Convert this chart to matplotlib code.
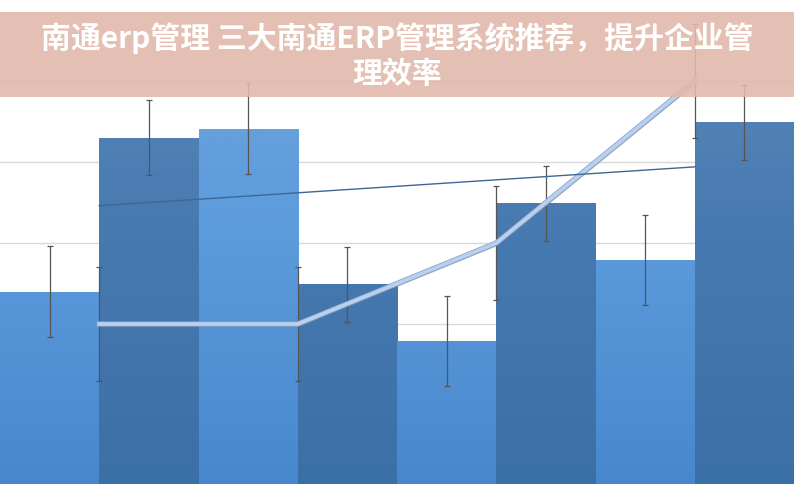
import matplotlib
matplotlib.use("Agg")
import matplotlib.pyplot as plt
import matplotlib.patheffects as pe
import numpy as np
from matplotlib.colors import LinearSegmentedColormap

# data
bar_values = [2.40, 4.30, 4.41, 2.49, 1.79, 3.49, 2.79, 4.49]
bar_errors = [0.56, 0.46, 0.56, 0.46, 0.56, 0.46, 0.56, 0.46]
line_x = [0.5, 2.5, 4.5, 6.5]
line_values = [2.0, 2.0, 3.0, 5.0]
line_errors = [0.7, 0.7, 0.7, 0.7]
trend_x = [0.5, 6.5]
trend_values = [3.46, 3.94]
title = "南通erp管理 三大南通ERP管理系统推荐，提升企业管\n理效率"

plt.rcParams['font.family'] = ['Noto Sans CJK SC', 'DejaVu Sans']

fig = plt.figure(figsize=(7.94, 4.84), dpi=100)
ax = fig.add_axes([0, 0, 1, 1])

x = np.arange(len(bar_values))
light = LinearSegmentedColormap.from_list("light", ["#4787cc", "#5b9bdc", "#72a5dc"])
dark = LinearSegmentedColormap.from_list("dark", ["#3b70a6", "#4679b0", "#5d8aba"])

bars = ax.bar(x, bar_values, width=1.0, color="none", zorder=2)
grad = np.linspace(0, 1, 256).reshape(-1, 1)
for i, b in enumerate(bars):
    cmap = light if i % 2 == 0 else dark
    im = ax.imshow(grad, cmap=cmap, origin="lower", aspect="auto",
                   extent=[b.get_x(), b.get_x() + b.get_width(), 0, 6.0], zorder=2)
    im.set_clip_path(b)

ax.errorbar(x, bar_values, yerr=bar_errors, fmt="none", ecolor="#555555",
            elinewidth=0.9, capsize=2, capthick=0.9, zorder=4)

# line series at the category boundaries
ax.errorbar(line_x, line_values, yerr=line_errors, fmt="none", ecolor="#555555",
            elinewidth=0.9, capsize=2, capthick=0.9, zorder=4)
ax.plot(line_x, line_values, color="#b9d0ee", linewidth=2.6, zorder=5,
        path_effects=[pe.SimpleLineShadow(offset=(0.6, -0.8), shadow_color="#6f7f95", alpha=0.6),
                      pe.Stroke(linewidth=3.8, foreground="#8aa6cc"), pe.Normal()])

ax.plot(trend_x, trend_values, color="#3d6893", linewidth=1.0, zorder=5)

ax.set_xlim(-0.5, 7.5)
ax.set_ylim(0.025, 6.0)
ax.set_yticks([1, 2, 3, 4, 5])
ax.grid(axis="y", color="#d9d9d9", linewidth=1.0, zorder=0)
ax.set_axisbelow(True)
ax.tick_params(left=False, bottom=False, labelleft=False, labelbottom=False)
for s in ax.spines.values():
    s.set_visible(False)

# title band
fig.patches.append(plt.Rectangle((0, 1 - 97 / 484), 1, 85 / 484, transform=fig.transFigure,
                                 facecolor="#e2b8ab", alpha=0.9, edgecolor="none", zorder=10))
fig.text(0.5, 1 - 56 / 484, title, ha="center", va="center", color="white",
         fontsize=21.5, fontweight="heavy", linespacing=1.2, zorder=11)

fig.savefig("out.png", dpi=100)
